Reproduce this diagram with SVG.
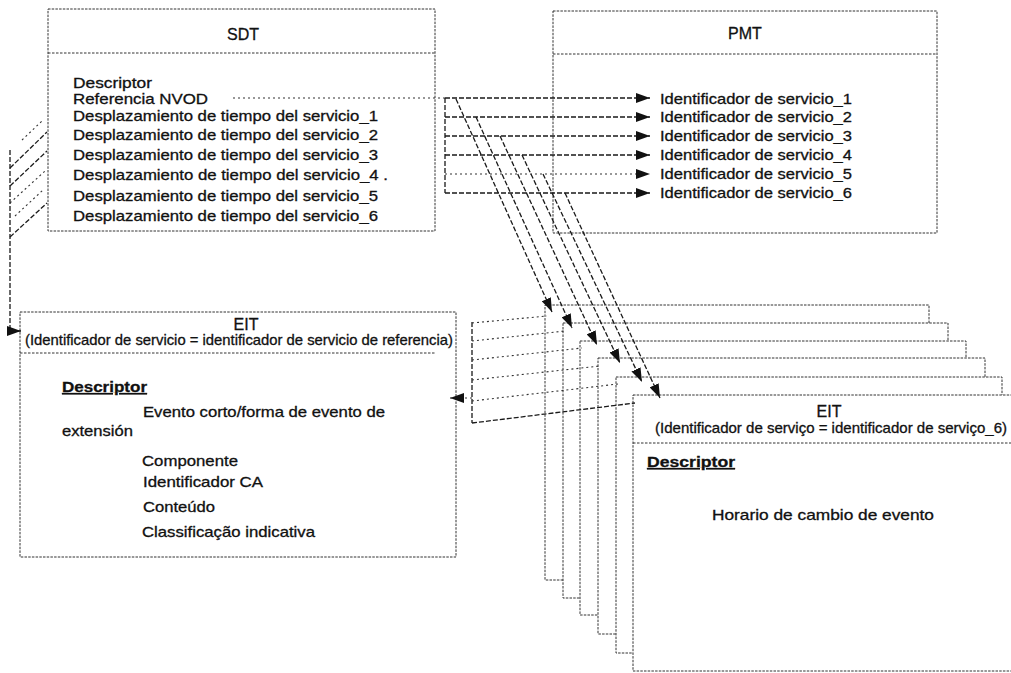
<svg xmlns="http://www.w3.org/2000/svg" width="1011" height="673" viewBox="0 0 1011 673">
<defs>
<style>
.box{fill:#fff;stroke:#333;stroke-width:1;stroke-dasharray:2.5 1.2}
.sep{stroke:#333;stroke-width:1;stroke-dasharray:2.5 1.5}
.con{fill:none;stroke:#1a1a1a;stroke-width:1.3;stroke-dasharray:5 2}
.dot{fill:none;stroke:#333;stroke-width:1.1;stroke-dasharray:2 3}
.t{font-family:"Liberation Sans",Arial,sans-serif;font-size:14.5px;fill:#111;stroke:#111;stroke-width:0.3}
.h{font-size:16px}
.b{font-weight:bold;text-decoration:underline}
</style>
<marker id="ah" markerWidth="14" markerHeight="10" refX="14" refY="5" orient="auto" markerUnits="userSpaceOnUse">
<path d="M0,0 L14,5 L0,10 z" fill="#111"/>
</marker>
</defs>
<rect width="1011" height="673" fill="#fff"/>

<g id="sdt">
<rect class="box" x="48" y="9" width="387" height="222"/>
<line class="sep" x1="48" y1="53" x2="435" y2="53"/>
<text class="t h" x="243" y="40" text-anchor="middle">SDT</text>
<text class="t" x="73" y="88" textLength="79" lengthAdjust="spacingAndGlyphs">Descriptor</text>
<text class="t" x="73" y="104" textLength="135" lengthAdjust="spacingAndGlyphs">Referencia NVOD</text>
<text class="t" x="73" y="121" textLength="305" lengthAdjust="spacingAndGlyphs">Desplazamiento de tiempo del servicio_1</text>
<text class="t" x="73" y="140" textLength="305" lengthAdjust="spacingAndGlyphs">Desplazamiento de tiempo del servicio_2</text>
<text class="t" x="73" y="160" textLength="305" lengthAdjust="spacingAndGlyphs">Desplazamiento de tiempo del servicio_3</text>
<text class="t" x="73" y="180" textLength="315" lengthAdjust="spacingAndGlyphs">Desplazamiento de tiempo del servicio_4 .</text>
<text class="t" x="73" y="201" textLength="305" lengthAdjust="spacingAndGlyphs">Desplazamiento de tiempo del servicio_5</text>
<text class="t" x="73" y="221" textLength="305" lengthAdjust="spacingAndGlyphs">Desplazamiento de tiempo del servicio_6</text>
</g>

<g id="pmt">
<rect class="box" x="553" y="11" width="384" height="222"/>
<line class="sep" x1="553" y1="54" x2="937" y2="54"/>
<text class="t h" x="745" y="39" text-anchor="middle">PMT</text>
<text class="t" x="660" y="104" textLength="192" lengthAdjust="spacingAndGlyphs">Identificador de servicio_1</text>
<text class="t" x="660" y="122" textLength="192" lengthAdjust="spacingAndGlyphs">Identificador de servicio_2</text>
<text class="t" x="660" y="141" textLength="192" lengthAdjust="spacingAndGlyphs">Identificador de servicio_3</text>
<text class="t" x="660" y="160" textLength="192" lengthAdjust="spacingAndGlyphs">Identificador de servicio_4</text>
<text class="t" x="660" y="179" textLength="192" lengthAdjust="spacingAndGlyphs">Identificador de servicio_5</text>
<text class="t" x="660" y="198" textLength="192" lengthAdjust="spacingAndGlyphs">Identificador de servicio_6</text>
</g>

<g id="eit-ref">
<rect class="box" x="20" y="312" width="436" height="245"/>
<line class="sep" x1="20" y1="353" x2="436" y2="353"/>
<text class="t h" x="246" y="330" text-anchor="middle">EIT</text>
<text class="t" x="25" y="345" textLength="428" lengthAdjust="spacingAndGlyphs">(Identificador de servicio = identificador de servicio de referencia)</text>
<text class="t b" x="62" y="392" textLength="85" lengthAdjust="spacingAndGlyphs">Descriptor</text>
<text class="t" x="143" y="417" textLength="242" lengthAdjust="spacingAndGlyphs">Evento corto/forma de evento de</text>
<text class="t" x="62" y="436" textLength="71" lengthAdjust="spacingAndGlyphs">extensión</text>
<text class="t" x="142" y="466" textLength="96" lengthAdjust="spacingAndGlyphs">Componente</text>
<text class="t" x="143" y="487" textLength="120" lengthAdjust="spacingAndGlyphs">Identificador CA</text>
<text class="t" x="143" y="512" textLength="72" lengthAdjust="spacingAndGlyphs">Conteúdo</text>
<text class="t" x="142" y="537" textLength="173" lengthAdjust="spacingAndGlyphs">Classificação indicativa</text>
</g>

<g id="eit-1"><rect class="box" x="545" y="305" width="384" height="275"/></g>
<g id="eit-2"><rect class="box" x="563" y="323" width="385" height="275"/></g>
<g id="eit-3"><rect class="box" x="580" y="341" width="386" height="274"/></g>
<g id="eit-4"><rect class="box" x="598" y="358" width="387" height="276"/></g>
<g id="eit-5"><rect class="box" x="616" y="377" width="386" height="276"/></g>
<g id="eit-6">
<rect class="box" x="633" y="395" width="396" height="276"/>
<line class="sep" x1="633" y1="443" x2="1011" y2="443"/>
<text class="t h" x="829" y="417" text-anchor="middle">EIT</text>
<text class="t" x="655" y="433" textLength="352" lengthAdjust="spacingAndGlyphs">(Identificador de serviço = identificador de serviço_6)</text>
<text class="t b" x="647" y="467" textLength="88" lengthAdjust="spacingAndGlyphs">Descriptor</text>
<text class="t" x="712" y="520" textLength="222" lengthAdjust="spacingAndGlyphs">Horario de cambio de evento</text>
</g>

<g id="connectors">
<path class="dot" d="M233,98 H445"/>
<path class="con" d="M445,98 H650" marker-end="url(#ah)"/>
<path class="con" d="M445,98 V193"/>
<path class="con" d="M445,117 H650" marker-end="url(#ah)"/>
<path class="con" d="M445,136 H650" marker-end="url(#ah)"/>
<path class="con" d="M445,155 H650" marker-end="url(#ah)"/>
<path class="dot" d="M445,174 H650" marker-end="url(#ah)"/>
<path class="con" d="M445,193 H650" marker-end="url(#ah)"/>

<path class="con" d="M456,99 L552,312" marker-end="url(#ah)"/>
<path class="con" d="M476,117 L572,328" marker-end="url(#ah)"/>
<path class="con" d="M500,136 L597,345" marker-end="url(#ah)"/>
<path class="con" d="M522,155 L620,363" marker-end="url(#ah)"/>
<path class="con" d="M543,174 L642,382" marker-end="url(#ah)"/>
<path class="con" d="M565,193 L660,398" marker-end="url(#ah)"/>

<path class="con" d="M472,322 V423"/>
<path class="dot" d="M472,323 L547,316"/>
<path class="dot" d="M472,341 L565,331"/>
<path class="dot" d="M472,360 L582,348"/>
<path class="dot" d="M472,380 L600,366"/>
<path class="dot" d="M472,401 L618,384"/>
<path class="con" d="M472,423 L635,403"/>
<path class="dot" d="M472,398 H450" marker-end="url(#ah)"/>

<path class="con" d="M10,150 V331 H21" marker-end="url(#ah)"/>
<path class="dot" d="M22,140 L42,121"/>
<path class="con" d="M10,168 L47,132"/>
<path class="con" d="M10,186 L47,151"/>
<path class="dot" d="M10,203 L45,171"/>
<path class="dot" d="M15,216 L43,190"/>
<path class="con" d="M10,237 L47,203"/>
</g>
</svg>
